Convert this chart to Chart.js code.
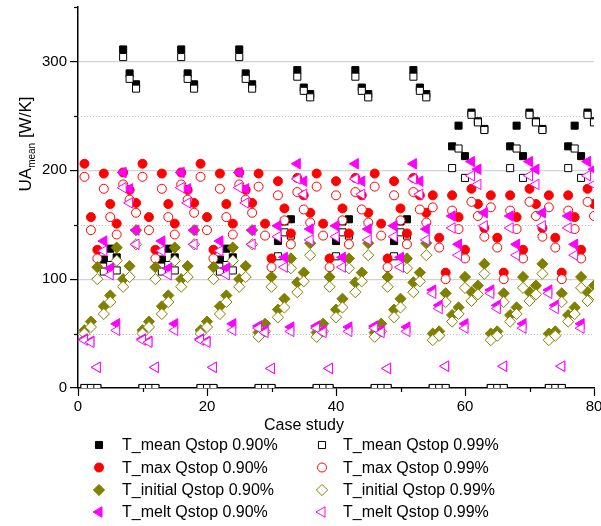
<!DOCTYPE html>
<html>
<head>
<meta charset="utf-8">
<script src="https://cdn.jsdelivr.net/npm/chart.js@4.4.0/dist/chart.umd.min.js"></script>
<style>
  html, body { margin: 0; padding: 0; background: #fff; }
  #wrap { position: relative; width: 601px; height: 526px; }
</style>
</head>
<body>
<div id="wrap"><canvas id="ua_chart" width="601" height="526"></canvas></div>
<script>
// case numbers (x axis)
const cases = [1,2,3,4,5,6,7,8,9, 10,11,12,13,14,15,16,17,18, 19,20,21,22,23,24,25,26,27,
  28,29,30,31,32,33,34,35,36, 37,38,39,40,41,42,43,44,45, 46,47,48,49,50,51,52,53,54,
  55,56,57,58,59,60,61,62,63, 64,65,66,67,68,69,70,71,72, 73,74,75,76,77,78,79,80,81];

// UA_mean [W/K] per case
const meanQ90 = [0,0,0,118,128,120,311,289,279, 0,0,0,118,128,120,311,289,279, 0,0,0,118,128,120,311,289,279,
  0,0,0,135,153,155,292,276,270, 0,0,0,135,153,155,292,276,270, 0,0,0,135,153,155,292,276,270,
  0,0,0,222,241,213,253,245,238, 0,0,0,222,241,213,253,245,238, 0,0,0,222,241,213,253,245,238];
const meanQ99 = [0,0,0,107,113,108,304,284,275, 0,0,0,107,113,108,304,284,275, 0,0,0,107,113,108,304,284,275,
  0,0,0,121,143,140,286,273,267, 0,0,0,121,143,140,286,273,267, 0,0,0,121,143,140,286,273,267,
  0,0,0,202,220,193,251,244,237, 0,0,0,202,220,193,251,244,237, 0,0,0,202,220,193,251,244,237];
const maxQ90 = [206,157,127,197,169,151,198,182,170, 206,157,127,197,169,151,198,182,170, 206,157,127,197,169,151,198,182,170,
  197,151,119,190,165,142,193,177,161, 197,151,119,190,165,142,193,177,161, 197,151,119,190,165,142,193,177,161,
  177,138,106,177,157,127,183,169,147, 177,138,106,177,157,127,183,169,147, 177,138,106,177,157,127,183,169,147];
const maxQ99 = [194,145,119,183,157,141,187,173,161, 194,145,119,183,157,141,187,173,161, 194,145,119,183,157,141,187,173,161,
  185,140,111,177,154,132,180,164,152, 185,140,111,177,154,132,180,164,152, 185,140,111,177,154,132,180,164,152,
  166,129,100,163,146,119,171,158,139, 166,129,100,163,146,119,171,158,139, 166,129,100,163,146,119,171,158,139];
const initQ90 = [53,61,111,75,85,129,100,112,145, 53,61,111,75,85,129,100,112,145, 53,61,111,75,85,129,100,112,145,
  51,59,102,72,82,119,97,106,133, 51,59,102,72,82,119,97,106,133, 51,59,102,72,82,119,97,106,133,
  50,52,87,67,74,102,88,94,114, 50,52,87,67,74,102,88,94,114, 50,52,87,67,74,102,88,94,114];
const initQ99 = [50,56,100,68,79,117,93,102,132, 50,56,100,68,79,117,93,102,132, 50,56,100,68,79,117,93,102,132,
  47,52,93,65,74,110,88,98,122, 47,52,93,65,74,110,88,98,122, 47,52,93,65,74,110,88,98,122,
  44,48,79,61,68,92,80,86,105, 44,48,79,61,68,92,80,86,105, 44,48,79,61,68,92,80,86,105];
const meltQ90 = [45,43,19,135,110,59,198,183,145, 45,43,19,135,110,59,198,183,145, 45,43,19,135,110,59,198,183,145,
  57,53,18,149,120,56,206,190,146, 57,53,18,149,120,56,206,190,146, 57,53,18,149,120,56,206,190,146,
  90,76,20,158,132,59,208,201,161, 90,76,20,158,132,59,208,201,161, 90,76,20,158,132,59,208,201,161];
const meltQ99 = [44,42,19,126,104,53,184,170,132, 44,42,19,126,104,53,184,170,132, 44,42,19,126,104,53,184,170,132,
  55,51,18,139,111,52,192,178,136, 55,51,18,139,111,52,192,178,136, 55,51,18,139,111,52,192,178,136,
  87,73,20,147,122,55,195,187,149, 87,73,20,147,122,55,195,187,149, 87,73,20,147,122,55,195,187,149];

const seriesNames = ["T_mean Qstop 0.90%", "T_mean Qstop 0.99%", "T_max Qstop 0.90%", "T_max Qstop 0.99%",
  "T_initial Qstop 0.90%", "T_initial Qstop 0.99%", "T_melt Qstop 0.90%", "T_melt Qstop 0.99%"];
const seriesValues = [meanQ90, meanQ99, maxQ90, maxQ99, initQ90, initQ99, meltQ90, meltQ99];

//------------------------------------------

const FONT = '"Liberation Sans", Arial, sans-serif';
const styles = [
  {shape: 'rect', color: '#000000', filled: true, r: 5},
  {shape: 'rect', color: '#000000', filled: false, r: 5},
  {shape: 'circle', color: '#ff0000', filled: true, r: 4.5},
  {shape: 'circle', color: '#ff0000', filled: false, r: 4.5},
  {shape: 'rectRot', color: '#808000', filled: true, r: 5.6},
  {shape: 'rectRot', color: '#808000', filled: false, r: 5.6},
  {shape: 'triangle', color: '#ff00ff', filled: true, r: 6},
  {shape: 'triangle', color: '#ff00ff', filled: false, r: 6},
];

const datasets = seriesNames.map((name, i) => ({
  label: name,
  data: cases.map((c, k) => ({x: c, y: seriesValues[i][k]})),
  showLine: false,
  pointStyle: styles[i].shape,
  pointRotation: styles[i].shape === 'triangle' ? -90 : 0,
  pointRadius: styles[i].r,
  pointBorderWidth: 1,
  pointBorderColor: styles[i].color,
  pointBackgroundColor: styles[i].filled ? styles[i].color : '#ffffff',
  clip: 0,
  order: 8 - i
}));

// marker drawing for the legend
function drawMarker(ctx, st, x, y) {
  ctx.save();
  ctx.beginPath();
  const r = st.r;
  if (st.shape === 'rect') {
    const s = Math.SQRT1_2 * r;
    ctx.rect(x - s, y - s, 2 * s, 2 * s);
  } else if (st.shape === 'circle') {
    ctx.arc(x, y, r, 0, Math.PI * 2);
  } else if (st.shape === 'rectRot') {
    ctx.moveTo(x - r, y); ctx.lineTo(x, y - r); ctx.lineTo(x + r, y); ctx.lineTo(x, y + r);
  } else {
    ctx.moveTo(x - r, y); ctx.lineTo(x + 0.5 * r, y - 0.866 * r); ctx.lineTo(x + 0.5 * r, y + 0.866 * r);
  }
  ctx.closePath();
  ctx.fillStyle = st.filled ? st.color : '#ffffff';
  ctx.fill();
  ctx.lineWidth = 1;
  ctx.strokeStyle = st.color;
  ctx.stroke();
  ctx.restore();
}

//extras plugin: dotted minor grid, minor ticks, titles, legend
const extras = {
  id: 'extras',
  beforeDatasetsDraw(chart) {
    const {ctx, chartArea: {left, right}, scales: {y}} = chart;
    ctx.save();
    ctx.strokeStyle = '#c4c4c4';
    ctx.lineWidth = 1;
    ctx.setLineDash([1, 2]);
    [50, 150, 250].forEach(v => {
      const py = Math.round(y.getPixelForValue(v)) + 0.5;
      ctx.beginPath(); ctx.moveTo(left, py); ctx.lineTo(right, py); ctx.stroke();
    });
    ctx.restore();
  },
  afterDraw(chart) {
    const {ctx, chartArea: {left, bottom}, scales: {x, y}} = chart;
    ctx.save();
    ctx.strokeStyle = '#000';
    ctx.lineWidth = 1.2;
    [50, 150, 250, 350].forEach(v => {
      const py = Math.round(y.getPixelForValue(v)) + 0.5;
      ctx.beginPath(); ctx.moveTo(left - 4, py); ctx.lineTo(left, py); ctx.stroke();
    });
    [10, 30, 50, 70].forEach(v => {
      const px = Math.round(x.getPixelForValue(v)) + 0.5;
      ctx.beginPath(); ctx.moveTo(px, bottom); ctx.lineTo(px, bottom + 4); ctx.stroke();
    });

    // x title
    ctx.fillStyle = '#000';
    ctx.font = '16px ' + FONT;
    ctx.textAlign = 'center';
    ctx.textBaseline = 'alphabetic';
    ctx.fillText('Case study', 304, 430);

    // y title with subscript
    ctx.save();
    ctx.translate(31, 144);
    ctx.rotate(-Math.PI / 2);
    ctx.textAlign = 'left';
    ctx.font = '17px ' + FONT;
    const w1 = ctx.measureText('UA').width;
    const w3 = ctx.measureText(' [W/K]').width;
    ctx.font = '10px ' + FONT;
    const w2 = ctx.measureText('mean').width;
    let tx = -(w1 + w2 + w3) / 2;
    ctx.font = '17px ' + FONT;
    ctx.fillText('UA', tx, 0); tx += w1;
    ctx.font = '10px ' + FONT;
    ctx.fillText('mean', tx, 4); tx += w2;
    ctx.font = '17px ' + FONT;
    ctx.fillText(' [W/K]', tx, 0);
    ctx.restore();

    // legend, two columns
    const colMark = [99, 322], colText = [122, 343], rowY = [445, 467.5, 490, 512];
    ctx.font = '16px ' + FONT;
    ctx.textAlign = 'left';
    ctx.textBaseline = 'middle';
    seriesNames.forEach((name, i) => {
      const col = i % 2, row = Math.floor(i / 2);
      drawMarker(ctx, styles[i], colMark[col], rowY[row]);
      ctx.fillStyle = '#000';
      ctx.fillText(name, colText[col], rowY[row] + 1);
    });
    ctx.restore();
  }
};

//------------------------------------------

const config = {
  type: 'scatter',
  data: {datasets: datasets},
  options: {
    responsive: false,
    animation: false,
    events: [],
    layout: {padding: {left: 0, top: 5, right: 7, bottom: 98}},
    plugins: {legend: {display: false}, tooltip: {enabled: false}},
    scales: {
      x: {
        type: 'linear', min: 0, max: 80,
        border: {color: '#000', width: 1.5},
        grid: {
          drawOnChartArea: false, tickLength: 8,
          tickColor: c => (c.tick && c.tick.value % 20 === 0) ? '#000' : 'rgba(0,0,0,0)',
          tickWidth: 1.2
        },
        ticks: {
          stepSize: 10, autoSkip: false, maxRotation: 0, padding: 2,
          color: '#000', font: {family: FONT, size: 15},
          callback: v => (v % 20 === 0 ? v : '')
        },
        afterFit(scale) { scale.height = 40; scale.paddingLeft = 0; scale.paddingRight = 0; }
      },
      y: {
        type: 'linear', min: 0, max: 350,
        border: {color: '#000', width: 1.5},
        grid: {
          color: c => (c.tick && c.tick.value % 100 === 0 && c.tick.value > 0 && c.tick.value < 350) ? '#d2d2d2' : 'rgba(0,0,0,0)',
          lineWidth: 1.2,
          tickLength: 8,
          tickColor: c => (c.tick && c.tick.value % 100 === 0) ? '#000' : 'rgba(0,0,0,0)',
          tickWidth: 1.2
        },
        ticks: {
          stepSize: 50, autoSkip: false, padding: 3,
          color: '#000', font: {family: FONT, size: 15},
          callback: v => (v % 100 === 0 && v <= 300 ? v : '')
        },
        afterFit(scale) { scale.width = 78; scale.paddingTop = 0; scale.paddingBottom = 0; }
      }
    }
  },
  plugins: [extras]
};

const uaChart = new Chart(document.getElementById('ua_chart'), config);
</script>
</body>
</html>
